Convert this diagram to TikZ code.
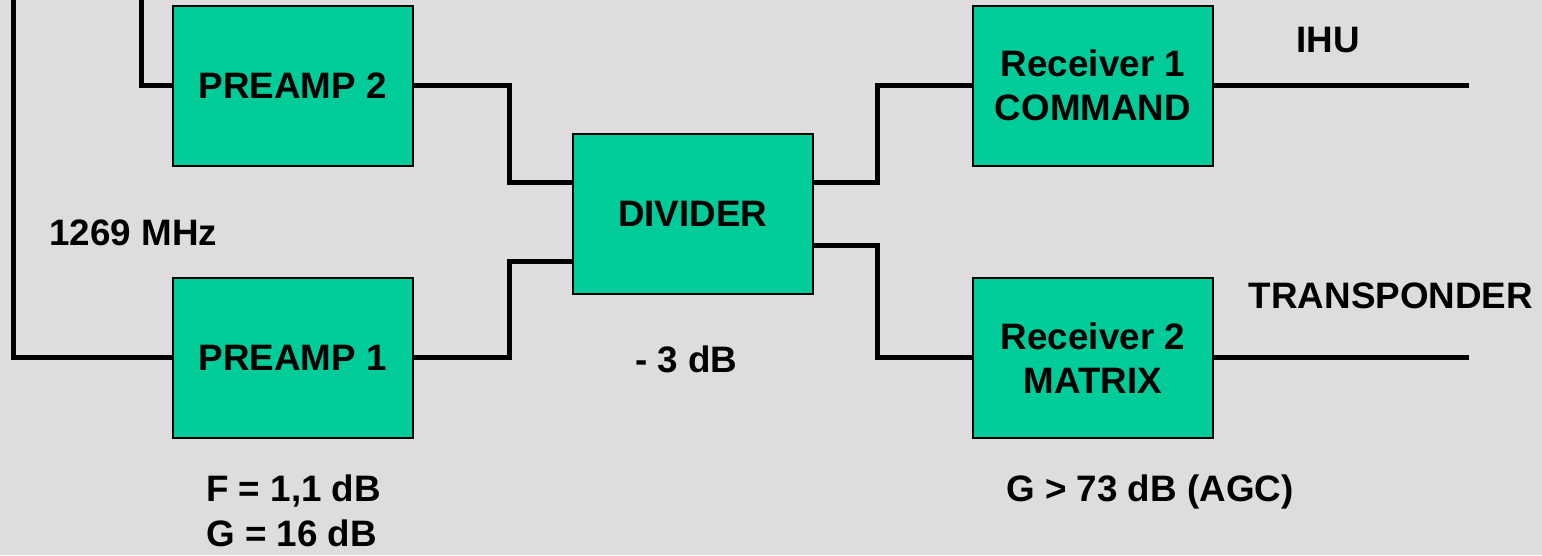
\documentclass[tikz,border=0pt]{standalone}
\usepackage{fontspec}
\setmainfont{Liberation Sans}
\definecolor{bgcol}{HTML}{DDDDDD}
\definecolor{boxgreen}{HTML}{00CC99}
\begin{document}
\begin{tikzpicture}[x=1pt,y=-1pt,
  every node/.style={font=\fontsize{36.8}{44}\selectfont\bfseries},
  block/.style={draw=black, line width=2pt, fill=boxgreen, minimum width=240pt, minimum height=160pt, align=center, inner sep=0pt},
  lbl/.style={inner sep=0pt, anchor=base west},
  wire/.style={line width=5pt, line join=miter, line cap=butt}]
\fill[bgcol] (0,0) rectangle (1542,555);
\useasboundingbox (0,0) rectangle (1542,555);

\node[block] (p2) at (292.7,85.8) {PREAMP 2};
\node[block] (p1) at (292.7,357.7) {PREAMP 1};
\node[block] (div) at (692.8,214) {DIVIDER};
\node[block] (rx1) at (1093,85.7) {Receiver 1\\COMMAND};
\node[block] (rx2) at (1093,357.7) {Receiver 2\\MATRIX};

\coordinate (xl1) at (13.3,0);
\coordinate (xl2) at (141,0);
\coordinate (xa) at (509,0);
\coordinate (xb) at (877,0);
\coordinate (xe) at (1469,0);
\coordinate (d1) at ([yshift=32pt]div.west);
\coordinate (d2) at ([yshift=-47.7pt]div.west);
\coordinate (d3) at ([yshift=32pt]div.east);
\coordinate (d4) at ([yshift=-31.7pt]div.east);

\draw[wire] (xl1) |- (p1.west);
\draw[wire] (xl2) |- (p2.west);
\draw[wire] (p2.east) -| (xa |- d1) -- (d1);
\draw[wire] (p1.east) -| (xa |- d2) -- (d2);
\draw[wire] (d3) -| (xb |- rx1.west) -- (rx1.west);
\draw[wire] (d4) -| (xb |- rx2.west) -- (rx2.west);
\draw[wire] (rx1.east) -- (xe |- rx1.east);
\draw[wire] (rx2.east) -- (xe |- rx2.east);

\node[inner sep=0pt, anchor=base] (ihu) at (1328,52.3) {IHU};
\node[lbl] (trans) at (1248.7,308.3) {TRANSPONDER};
\node[lbl] (freq) at (49.3,245) {1269 MHz};
\node[lbl] (loss) at (635,372.3) {- 3 dB};
\node[lbl] (nf) at (206,501.7) {F = 1,1 dB};
\node[lbl] (gain) at (206,546.7) {G = 16 dB};
\node[lbl] (agc) at (1006,501.7) {G > 73 dB (AGC)};
\end{tikzpicture}
\end{document}
